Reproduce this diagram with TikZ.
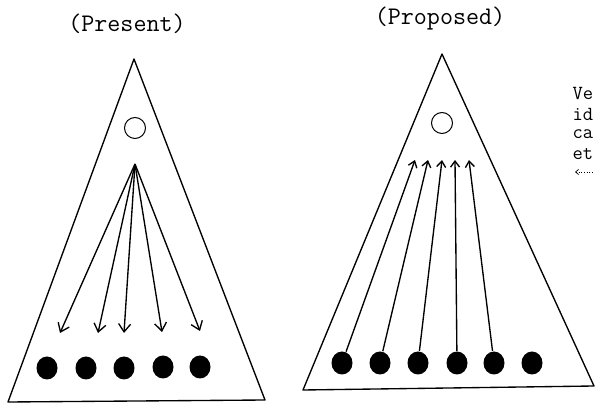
\documentclass[tikz,border=0pt]{standalone}
\usetikzlibrary{arrows.meta,shapes.geometric}

\begin{document}
\begin{tikzpicture}[x=1pt,y=-1pt,line width=1.35pt,line join=round,
                    >={Straight Barb[length=8pt,width=12pt]},
                    dot/.style={ellipse,fill,inner sep=0pt,minimum width=21pt,minimum height=23pt},
                    ring/.style={circle,draw,line width=1pt,inner sep=0pt,minimum size=21pt},
                    caption/.style={font=\ttfamily\fontsize{25.3}{28}\selectfont},
                    note/.style={anchor=west,inner sep=0pt,font=\ttfamily\fontsize{20}{22}\selectfont}]
  \useasboundingbox (0,0) rectangle (595,403);

  % present
  \node[caption] (present) at (127,24) {(Present)};
  \draw (134,59) -- (8,402) -- (265,400) -- cycle;
  \node[ring] (top1) at (135,128) {};
  \coordinate (fan) at (135,164);
  \coordinate (a1) at (60,333);
  \coordinate (a2) at (98,333);
  \coordinate (a3) at (124,333);
  \coordinate (a4) at (162,332);
  \coordinate (a5) at (200,331);
  \node[dot] (p1) at (47,368) {};
  \node[dot] (p2) at (86,368) {};
  \node[dot] (p3) at (124,368) {};
  \node[dot] (p4) at (163,367) {};
  \node[dot] (p5) at (200,367) {};
  \draw[->] (fan) -- (a1);
  \draw[->] (fan) -- (a2);
  \draw[->] (fan) -- (a3);
  \draw[->] (fan) -- (a4);
  \draw[->] (fan) -- (a5);

  % proposed
  \node[caption] (proposed) at (440,19) {(Proposed)};
  \draw (442,54) -- (303,390) -- (594,386) -- cycle;
  \node[ring] (top2) at (442,123) {};
  \coordinate (b1) at (415,160);
  \coordinate (b2) at (428,160);
  \coordinate (b3) at (442,160);
  \coordinate (b4) at (455,160);
  \coordinate (b5) at (469,160);
  \node[dot] (q1) at (342,363) {};
  \node[dot] (q2) at (380,363) {};
  \node[dot] (q3) at (418,363) {};
  \node[dot] (q4) at (457,363) {};
  \node[dot] (q5) at (494,363) {};
  \node[dot] (q6) at (532,363) {};
  \begin{scope}[>={Straight Barb[length=6pt,width=9pt]}]
    \draw[->] (q1) -- (b1);
    \draw[->] (q2) -- (b2);
    \draw[->] (q3) -- (b3);
    \draw[->] (q4) -- (b4);
    \draw[->] (q5) -- (b5);
  \end{scope}

  % side note
  \node[note] (l1) at (572,93) {Ve};
  \node[note] (l2) at (572,114) {id};
  \node[note] (l3) at (572,134) {ca};
  \node[note] (l4) at (572,154) {et};
  \coordinate (m1) at (575,172);
  \coordinate (m2) at (597,172);
  \draw[<-,line width=0.7pt,dotted,>={Straight Barb[length=3pt,width=5pt]}] (m1) -- (m2);
\end{tikzpicture}
\end{document}
